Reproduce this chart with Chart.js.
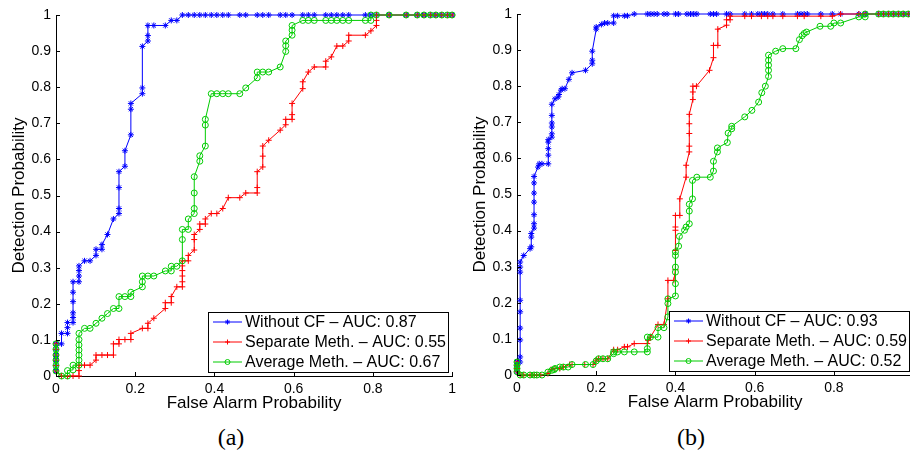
<!DOCTYPE html>
<html lang="en">
<head>
<meta charset="UTF-8">
<title>ROC curves</title>
<script src="https://cdn.jsdelivr.net/npm/chart.js"></script>
<style>
  html, body { margin: 0; padding: 0; background: #fff; overflow: hidden; width: 910px; height: 451px; }
  .panel { position: absolute; }
  .caption { position: absolute; top: 425px; width: 60px; margin-left: -30px; text-align: center;
             font-family: "Liberation Serif", "DejaVu Serif", serif; font-size: 24px; line-height: 24px; color: #000; }
</style>
</head>
<body>
<canvas id="chartA" class="panel" width="461" height="420" style="left:0;top:0"></canvas>
<canvas id="chartB" class="panel" width="461" height="420" style="left:461px;top:-1px"></canvas>
<div class="caption" style="left:231px">(a)</div>
<div class="caption" style="left:691px">(b)</div>
<script>
// tick labels
const xTickLabels = ['0', '0.2', '0.4', '0.6', '0.8', '1'];
const yTickLabels = ['0', '0.1', '0.2', '0.3', '0.4', '0.5', '0.6', '0.7', '0.8', '0.9', '1'];

const seriesNames = ['Without CF', 'Separate Meth.', 'Average Meth.'];
const aucA = ['0.87', '0.55', '0.67'];
const aucB = ['0.93', '0.59', '0.52'];

// panel (a): [false alarm, detection]
const aWithout = [
  [0,0.014],[0,0.029],[0,0.044],[0,0.058],[0,0.074],[0,0.089],
  [0.014,0.089],[0.014,0.118],[0.029,0.118],[0.029,0.134],[0.029,0.148],[0.043,0.148],
  [0.043,0.162],[0.043,0.175],[0.043,0.206],[0.043,0.232],[0.043,0.261],[0.058,0.261],
  [0.058,0.277],[0.058,0.292],[0.058,0.305],[0.072,0.319],[0.086,0.319],[0.101,0.334],
  [0.101,0.351],[0.116,0.351],[0.116,0.364],[0.130,0.392],[0.145,0.435],[0.159,0.450],
  [0.159,0.464],[0.159,0.522],[0.159,0.566],[0.174,0.581],[0.174,0.624],[0.189,0.668],
  [0.189,0.739],[0.189,0.755],[0.218,0.782],[0.218,0.798],[0.218,0.913],[0.232,0.928],
  [0.232,0.943],[0.232,0.971],[0.247,0.971],[0.276,0.971],[0.291,0.985],[0.305,0.985],
  [0.319,1],[0.334,1],[0.349,1],[0.363,1],[0.377,1],[0.392,1],[0.406,1],[0.421,1],[0.435,1],
  [0.464,1],[0.479,1],[0.508,1],[0.522,1],[0.537,1],[0.566,1],[0.580,1],[0.596,1],
  [0.623,1],[0.637,1],[0.652,1],[0.681,1],[0.695,1],[0.709,1],[0.724,1],[0.739,1],
  [0.781,1],[0.795,1],[0.809,1],[0.841,1],[0.884,1],[0.912,1],[0.929,1],[0.945,1],
  [0.959,1],[0.974,1],[0.988,1],[1,1]
];
const aSeparate = [
  [0,0.089],[0,0.074],[0,0.058],[0,0.044],[0,0.029],[0,0.014],
  [0.014,0],[0.029,0],[0.043,0],[0.058,0],[0.058,0.015],[0.058,0.030],[0.072,0.030],[0.086,0.030],
  [0.101,0.044],[0.101,0.058],[0.116,0.058],[0.130,0.058],[0.145,0.058],[0.145,0.089],[0.159,0.089],
  [0.159,0.101],[0.174,0.101],[0.189,0.101],[0.189,0.118],[0.218,0.132],[0.232,0.132],[0.232,0.146],
  [0.247,0.160],[0.276,0.187],[0.276,0.203],[0.291,0.203],[0.291,0.220],[0.305,0.247],[0.319,0.247],
  [0.319,0.261],[0.319,0.277],[0.319,0.292],[0.319,0.305],[0.319,0.319],[0.334,0.319],[0.334,0.334],
  [0.349,0.349],[0.349,0.378],[0.349,0.392],[0.363,0.406],[0.363,0.421],[0.377,0.421],[0.377,0.435],
  [0.392,0.450],[0.406,0.450],[0.421,0.464],[0.435,0.494],[0.464,0.494],[0.479,0.507],[0.508,0.507],
  [0.508,0.522],[0.508,0.566],[0.522,0.579],[0.522,0.609],[0.522,0.637],[0.537,0.653],[0.566,0.681],
  [0.580,0.696],[0.580,0.711],[0.596,0.711],[0.596,0.724],[0.596,0.755],[0.623,0.796],[0.623,0.815],
  [0.637,0.842],[0.652,0.856],[0.681,0.856],[0.681,0.872],[0.695,0.884],[0.709,0.914],[0.724,0.914],
  [0.739,0.928],[0.739,0.944],[0.781,0.944],[0.795,0.956],[0.809,0.971],[0.809,0.985],[0.809,1],
  [0.841,1],[0.884,1],[0.912,1],[0.929,1],[0.945,1],[0.959,1],[0.974,1],[0.988,1],[1,1]
];
const aAverage = [
  [0,0.089],[0,0.074],[0,0.058],[0,0.044],[0,0.029],[0,0.014],
  [0.014,0],[0.029,0],[0.029,0.015],[0.043,0.017],[0.043,0.030],[0.058,0.030],[0.058,0.044],
  [0.058,0.058],[0.058,0.072],[0.058,0.086],[0.058,0.101],[0.058,0.118],[0.072,0.132],[0.086,0.132],
  [0.101,0.146],[0.116,0.160],[0.130,0.173],[0.145,0.187],[0.159,0.187],[0.159,0.220],[0.174,0.220],
  [0.189,0.220],[0.189,0.232],[0.218,0.247],[0.218,0.261],[0.218,0.277],[0.232,0.277],[0.247,0.277],
  [0.276,0.291],[0.291,0.291],[0.291,0.304],[0.305,0.304],[0.319,0.319],[0.319,0.378],[0.319,0.406],
  [0.334,0.406],[0.334,0.435],[0.349,0.450],[0.349,0.464],[0.349,0.507],[0.349,0.552],[0.363,0.595],
  [0.363,0.610],[0.377,0.637],[0.377,0.695],[0.377,0.711],[0.392,0.782],[0.406,0.782],[0.421,0.782],
  [0.435,0.782],[0.464,0.782],[0.479,0.798],[0.508,0.826],[0.508,0.842],[0.522,0.842],[0.537,0.842],
  [0.566,0.856],[0.580,0.899],[0.580,0.915],[0.580,0.928],[0.596,0.944],[0.596,0.958],[0.596,0.971],
  [0.623,0.985],[0.637,0.985],[0.652,0.985],[0.681,0.985],[0.695,0.985],[0.709,0.985],[0.724,0.985],
  [0.739,0.985],[0.781,0.985],[0.795,0.985],[0.795,1],[0.809,1],[0.841,1],[0.884,1],[0.912,1],
  [0.929,1],[0.945,1],[0.959,1],[0.974,1],[0.988,1],[1,1]
];

// panel (b)
const bWithout = [
  [0,0.009],[0,0.018],[0,0.027],[0,0.036],[0.008,0.036],[0.008,0.05],[0.008,0.097],[0.008,0.13],
  [0.008,0.175],[0.008,0.207],[0.008,0.285],[0.008,0.299],[0.008,0.313],[0.017,0.331],[0.033,0.35],
  [0.036,0.355],[0.036,0.382],[0.036,0.392],[0.043,0.407],[0.043,0.419],[0.043,0.444],[0.043,0.479],
  [0.043,0.504],[0.043,0.532],[0.043,0.55],[0.053,0.576],[0.056,0.585],[0.063,0.585],[0.079,0.585],
  [0.079,0.609],[0.079,0.627],[0.079,0.645],[0.079,0.652],[0.088,0.659],[0.088,0.668],[0.088,0.687],
  [0.088,0.698],[0.088,0.719],[0.088,0.75],[0.096,0.765],[0.104,0.77],[0.106,0.777],[0.111,0.789],
  [0.114,0.793],[0.121,0.793],[0.131,0.819],[0.139,0.837],[0.173,0.844],[0.19,0.862],[0.19,0.872],
  [0.19,0.897],[0.2,0.958],[0.2,0.964],[0.213,0.971],[0.221,0.975],[0.229,0.975],[0.244,0.975],
  [0.244,0.995],[0.254,0.995],[0.271,0.995],[0.279,0.995],[0.296,1],[0.329,1],[0.338,1],[0.346,1],
  [0.354,1],[0.371,1],[0.379,1],[0.4,1],[0.408,1],[0.429,1],[0.438,1],[0.446,1],[0.454,1],[0.488,1],
  [0.496,1],[0.504,1],[0.529,1],[0.538,1],[0.575,1],[0.592,1],[0.608,1],[0.617,1],[0.625,1],[0.633,1],
  [0.646,1],[0.671,1],[0.708,1],[0.717,1],[0.725,1],[0.733,1],[0.767,1],[0.796,1],[0.817,1],[0.863,1],
  [0.879,1],[0.913,1],[0.925,1],[0.938,1],[0.95,1],[0.963,1],[0.975,1],[0.988,1],[1,1]
];
const bSeparate = [
  [0,0.036],[0,0.027],[0,0.018],[0,0.009],[0.008,0],[0.017,0],[0.033,0],[0.043,0],[0.05,0],[0.06,0],
  [0.078,0.004],[0.086,0.015],[0.096,0.018],[0.108,0.018],[0.117,0.022],[0.133,0.029],[0.139,0.029],
  [0.171,0.029],[0.192,0.029],[0.2,0.041],[0.206,0.045],[0.217,0.045],[0.229,0.045],[0.244,0.07],
  [0.254,0.07],[0.271,0.078],[0.279,0.078],[0.296,0.087],[0.329,0.087],[0.331,0.096],[0.337,0.105],
  [0.356,0.14],[0.371,0.14],[0.381,0.211],[0.381,0.262],[0.396,0.262],[0.4,0.292],[0.4,0.345],
  [0.4,0.401],[0.4,0.41],[0.4,0.442],[0.411,0.442],[0.411,0.488],[0.427,0.548],[0.427,0.581],
  [0.435,0.618],[0.435,0.634],[0.435,0.669],[0.435,0.696],[0.435,0.722],[0.444,0.763],[0.444,0.784],
  [0.444,0.8],[0.453,0.8],[0.486,0.844],[0.496,0.879],[0.496,0.913],[0.507,0.913],[0.507,0.958],
  [0.529,0.969],[0.529,0.984],[0.538,0.984],[0.538,0.994],[0.575,0.994],[0.592,0.994],[0.617,0.994],
  [0.633,0.994],[0.646,0.994],[0.671,0.994],[0.708,0.994],[0.725,0.994],[0.767,0.994],[0.796,0.994],
  [0.817,1],[0.863,1],[0.879,1],[0.913,1],[0.925,1],[0.938,1],[0.95,1],[0.963,1],[0.975,1],[0.988,1],[1,1]
];
const bAverage = [
  [0,0.036],[0,0.027],[0,0.018],[0,0.009],[0.008,0],[0.017,0],[0.033,0],[0.043,0],[0.05,0],[0.063,0],
  [0.078,0.008],[0.088,0.013],[0.094,0.015],[0.096,0.018],[0.108,0.022],[0.117,0.022],[0.129,0.022],
  [0.139,0.029],[0.173,0.029],[0.192,0.029],[0.2,0.039],[0.206,0.045],[0.217,0.045],[0.229,0.045],
  [0.244,0.059],[0.244,0.064],[0.254,0.064],[0.271,0.064],[0.296,0.064],[0.329,0.064],[0.329,0.073],
  [0.329,0.105],[0.337,0.105],[0.356,0.105],[0.356,0.131],[0.371,0.131],[0.381,0.161],[0.381,0.198],
  [0.381,0.211],[0.4,0.219],[0.4,0.253],[0.4,0.285],[0.4,0.299],[0.4,0.331],[0.4,0.341],[0.408,0.357],
  [0.41,0.384],[0.423,0.401],[0.427,0.41],[0.435,0.419],[0.435,0.454],[0.435,0.473],[0.443,0.488],
  [0.443,0.539],[0.454,0.548],[0.488,0.548],[0.496,0.565],[0.496,0.592],[0.506,0.618],[0.506,0.629],
  [0.531,0.644],[0.533,0.67],[0.542,0.682],[0.542,0.689],[0.575,0.715],[0.593,0.733],[0.61,0.756],
  [0.618,0.782],[0.627,0.8],[0.635,0.827],[0.635,0.844],[0.635,0.858],[0.635,0.872],[0.635,0.886],
  [0.653,0.897],[0.671,0.904],[0.704,0.904],[0.713,0.929],[0.72,0.94],[0.725,0.946],[0.731,0.95],
  [0.765,0.966],[0.792,0.966],[0.8,0.975],[0.817,0.975],[0.863,0.992],[0.879,0.992],[0.879,1],
  [0.913,1],[0.925,1],[0.938,1],[0.95,1],[0.963,1],[0.975,1],[0.988,1],[1,1]
];

const colors = ['#0000ff', '#ff0000', '#00cc00'];
const markers = ['star', 'cross', 'circle'];
const FONT = '"Liberation Sans", Arial, Helvetica, sans-serif';

// MATLAB style ticks pointing into the axes
const inwardTicks = {
  id: 'inwardTicks',
  afterDraw(chart) {
    const {ctx, chartArea: a, scales: {x, y}} = chart;
    ctx.save();
    ctx.strokeStyle = '#000';
    ctx.lineWidth = 1;
    ctx.beginPath();
    x.ticks.forEach(t => {
      const px = Math.round(x.getPixelForValue(t.value)) + 0.5;
      ctx.moveTo(px, a.bottom); ctx.lineTo(px, a.bottom - 4);
    });
    y.ticks.forEach(t => {
      const py = Math.round(y.getPixelForValue(t.value)) + 0.5;
      ctx.moveTo(a.left, py); ctx.lineTo(a.left + 4, py);
    });
    ctx.stroke();
    ctx.restore();
  }
};

// boxed legend in the lower right corner of the axes
const boxLegend = {
  id: 'boxLegend',
  afterDraw(chart) {
    const {ctx, chartArea: a} = chart;
    const w = 240, h = 60;
    const left = Math.round(a.right - w - 4), top = Math.round(a.bottom - h - 4);
    ctx.save();
    ctx.fillStyle = '#fff';
    ctx.fillRect(left, top, w, h);
    ctx.strokeStyle = '#000';
    ctx.lineWidth = 1;
    ctx.strokeRect(left + 0.5, top + 0.5, w, h);
    ctx.font = '16px ' + FONT;
    ctx.textBaseline = 'middle';
    chart.data.datasets.forEach((ds, i) => {
      const cy = top + 10 + i * 20;
      ctx.strokeStyle = ds.borderColor;
      ctx.lineWidth = 1;
      ctx.beginPath(); ctx.moveTo(left + 5, cy); ctx.lineTo(left + 34, cy); ctx.stroke();
      ctx.fillStyle = 'rgba(0,0,0,0)';
      Chart.helpers.drawPoint(ctx, {pointStyle: ds.pointStyle, radius: 2.5, borderWidth: 1, rotation: 0}, left + 19.5, cy);
      ctx.fillStyle = '#000';
      ctx.fillText(ds.label, left + 37, cy + 1);
    });
    ctx.restore();
  }
};

function makeChart(id, series, auc) {
  return new Chart(document.getElementById(id), {
    type: 'line',
    data: {
      datasets: series.map((pts, i) => ({
        label: seriesNames[i] + ' \u2013 AUC: ' + auc[i],
        data: pts.map(p => ({x: p[0], y: p[1]})),
        borderColor: colors[i],
        borderWidth: 1,
        pointStyle: markers[i],
        pointRadius: 3,
        pointBorderWidth: 1,
        pointBorderColor: colors[i],
        pointBackgroundColor: 'rgba(0,0,0,0)',
        tension: 0,
        fill: false,
        clip: 8,
        order: 3 - i
      }))
    },
    options: {
      responsive: false,
      animation: false,
      events: [],
      layout: {padding: {top: 15, right: 4, bottom: 0, left: 0}},
      plugins: {legend: {display: false}, tooltip: {enabled: false}},
      scales: {
        x: {
          type: 'linear', min: 0, max: 1,
          afterFit: s => { s.height = 44; },
          grid: {display: false, drawTicks: false},
          border: {display: true, color: '#000', width: 1},
          ticks: {
            stepSize: 0.2, padding: 5, color: '#000', maxRotation: 0, autoSkip: false,
            font: {family: FONT, size: 14},
            callback: (v, i) => xTickLabels[i]
          },
          title: {display: true, text: 'False Alarm Probability', color: '#000',
                  font: {family: FONT, size: 17}, padding: {top: 0, bottom: 6}}
        },
        y: {
          type: 'linear', min: 0, max: 1,
          afterFit: s => { s.width = 56; },
          grid: {display: false, drawTicks: false},
          border: {display: true, color: '#000', width: 1},
          ticks: {
            stepSize: 0.1, padding: 5, color: '#000', autoSkip: false,
            font: {family: FONT, size: 14},
            callback: (v, i) => yTickLabels[i]
          },
          title: {display: true, text: 'Detection Probability', color: '#000',
                  font: {family: FONT, size: 17}, padding: {top: 9, bottom: 0}}
        }
      }
    },
    plugins: [inwardTicks, boxLegend]
  });
}

makeChart('chartA', [aWithout, aSeparate, aAverage], aucA);
makeChart('chartB', [bWithout, bSeparate, bAverage], aucB);
</script>
</body>
</html>
